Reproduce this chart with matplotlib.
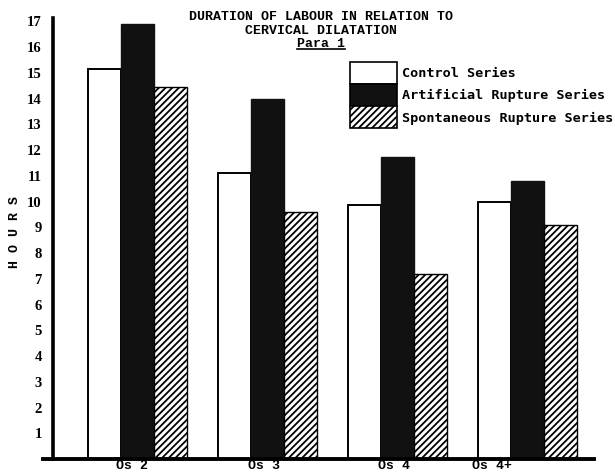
import numpy as np
import matplotlib
matplotlib.use("Agg")
import matplotlib.pyplot as plt
from matplotlib.patches import Patch
from matplotlib.lines import Line2D

# data
groups = ["Os 2", "Os 3", "Os 4", "Os 4+"]
control = [15.15, 11.1, 9.85, 10.0]
artificial = [16.9, 14.0, 11.75, 10.8]
spontaneous = [14.45, 9.6, 7.2, 9.1]
series_names = ["Control Series", "Artificial Rupture Series", "Spontaneous Rupture Series"]
yticks = list(range(1, 18))

plt.rcParams['hatch.linewidth'] = 1.3

W, H = 615, 475
fig = plt.figure(figsize=(W / 100, H / 100), dpi=100)
# axes spans pixel x 43..594, y 18..459 (from top)
ax = fig.add_axes([43 / W, (H - 459) / H, (594 - 43) / W, (459 - 18) / H])

x = np.arange(len(groups))
w = 0.254
ax.bar(x - w, control, w, color="white", edgecolor="black", linewidth=1.4)
ax.bar(x, artificial, w, color="#111111", edgecolor="#111111", linewidth=1.0)
ax.bar(x + w, spontaneous, w, color="white", edgecolor="black", hatch="/////", linewidth=1.0)

ax.set_xlim(-0.727, 3.512)
ax.set_ylim(0, 17.13)

# spines: only left (shifted in) and bottom
for s in ["top", "right"]:
    ax.spines[s].set_visible(False)
ax.spines["left"].set_position(("axes", 10 / 551))
ax.spines["left"].set_linewidth(2.6)
ax.spines["bottom"].set_linewidth(2.8)

ax.set_yticks(yticks)
ax.set_yticklabels([str(v) for v in yticks], fontfamily="Liberation Serif",
                   fontweight="bold", fontsize=10.5)
ax.tick_params(axis="y", length=0, pad=8)

label_shift = [-0.04, -0.03, -0.03, -0.27]
ax.set_xticks(x + np.array(label_shift))
ax.set_xticklabels(groups, fontfamily="Liberation Mono", fontweight="bold", fontsize=9.5)
ax.tick_params(axis="x", length=0, pad=1)

# title lines
title_font = dict(fontfamily="Liberation Mono", fontweight="bold", fontsize=9.5,
                  ha="center", va="center")
fig.text(321 / W, 1 - 17 / H, "DURATION OF LABOUR IN RELATION TO", **title_font)
fig.text(321 / W, 1 - 31 / H, "CERVICAL DILATATION", **title_font)
para = fig.text(321 / W, 1 - 44 / H, "Para 1", **title_font)
fig.canvas.draw()
bb = para.get_window_extent().transformed(fig.transFigure.inverted())
fig.add_artist(Line2D([bb.x0, bb.x1], [bb.y0 + 0.002, bb.y0 + 0.002],
                      transform=fig.transFigure, color="black", lw=1.2))

# y label, spaced letters
fig.text(15 / W, 1 - 232 / H, "H O U R S", rotation=90, ha="center", va="center",
         fontfamily="Liberation Mono", fontweight="bold", fontsize=9.5)

handles = [
    Patch(facecolor="white", edgecolor="black", linewidth=1.2),
    Patch(facecolor="#111111", edgecolor="black", linewidth=1.2),
    Patch(facecolor="white", edgecolor="black", hatch="/////", linewidth=1.2),
]
leg = fig.legend(handles, series_names, loc="upper left",
                 bbox_to_anchor=(350 / W, 1 - 62 / H), frameon=False,
                 prop=dict(family="DejaVu Sans Mono", weight="bold", size=9.7),
                 handlelength=3.5, handleheight=2.15, labelspacing=0.0,
                 handletextpad=0.37, borderpad=0, borderaxespad=0)

fig.savefig("out.png", dpi=100)
